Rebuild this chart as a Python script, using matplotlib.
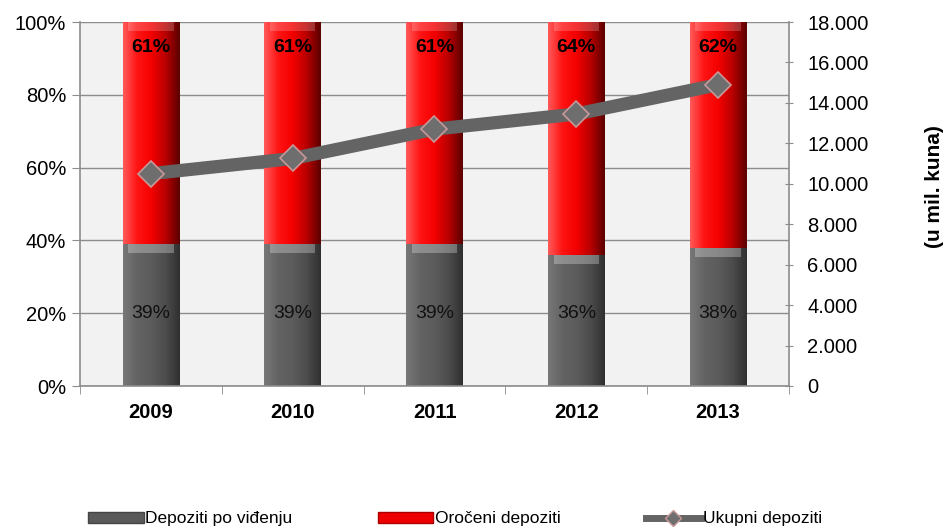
import numpy as np
import matplotlib
matplotlib.use("Agg")
import matplotlib.pyplot as plt
from matplotlib.colors import LinearSegmentedColormap
from matplotlib.lines import Line2D
from matplotlib.patches import Patch

plt.rcParams['font.family'] = ['Liberation Sans', 'DejaVu Sans']

years = ['2009', '2010', '2011', '2012', '2013']
po_videnju = [39, 39, 39, 36, 38]
oroceni = [61, 61, 61, 64, 62]
ukupni = [10500, 11250, 12700, 13450, 14900]
left_ticks = [0, 20, 40, 60, 80, 100]
right_ticks = [0, 2000, 4000, 6000, 8000, 10000, 12000, 14000, 16000, 18000]

fig = plt.figure(figsize=(9.48, 5.29), dpi=100)
ax = fig.add_axes([80/948, 1-386/529, 709/948, 364/529])
ax.set_facecolor('#f2f2f2')

x = np.arange(len(years))
w = 0.4
red_cmap = LinearSegmentedColormap.from_list('r', ['#ff5a5a', '#ff1414', '#f40000', '#b80000', '#5a0000'])
gray_cmap = LinearSegmentedColormap.from_list('g', ['#787878', '#636363', '#5c5c5c', '#4c4c4c', '#303030'])
grad = np.linspace(0, 1, 256).reshape(1, -1)

b1 = ax.bar(x, po_videnju, w, color='#5a5a5a', zorder=2)
b2 = ax.bar(x, oroceni, w, bottom=po_videnju, color='#ff0000', zorder=2)
for bars, cmap, hl in ((b1, gray_cmap, 0.28), (b2, red_cmap, 0.2)):
    for r in bars:
        x0, y0 = r.get_x(), r.get_y()
        im = ax.imshow(grad, cmap=cmap, aspect='auto', zorder=2.1,
                       extent=(x0, x0 + r.get_width(), y0, y0 + r.get_height()))
        im.set_clip_path(r)
        ax.bar(x0 + r.get_width()/2, 2.5, r.get_width()*0.8, bottom=y0 + r.get_height() - 2.5,
               color='white', alpha=hl, zorder=2.2, linewidth=0)

for i in range(len(years)):
    ax.text(x[i], po_videnju[i] + oroceni[i] - 7, f'{oroceni[i]}%', ha='center', va='center',
            fontsize=14, fontweight='bold', color='black', zorder=5)
    ax.text(x[i], 20, f'{po_videnju[i]}%', ha='center', va='center',
            fontsize=14, color='#111111', zorder=5)

ax.set_xlim(-0.5, len(years) - 0.5)
ax.set_ylim(0, 100)
ax.set_yticks(left_ticks)
ax.set_yticklabels([f'{t}%' for t in left_ticks], fontsize=14.5)
ax.yaxis.grid(True, color='#8c8c8c', linewidth=1)
ax.set_axisbelow(True)
ax.set_xticks(x)
ax.set_xticklabels(years, fontsize=14.5, fontweight='bold')
ax.set_xticks(np.arange(len(years) + 1) - 0.5, minor=True)
ax.tick_params(axis='x', which='major', length=0, pad=12)
ax.tick_params(axis='x', which='minor', length=6, color='#8c8c8c', direction='out')
ax.tick_params(axis='y', length=6, color='#8c8c8c', direction='out', pad=4)
for s in ['top', 'right']:
    ax.spines[s].set_visible(False)
for s in ['left', 'bottom']:
    ax.spines[s].set_color('#8c8c8c')
    ax.spines[s].set_linewidth(1.2)

ax2 = ax.twinx()
ax2.set_ylim(0, 18000)
ax2.set_yticks(right_ticks)
ax2.set_yticklabels([f'{t:,}'.replace(',', '.') for t in right_ticks], fontsize=14.5)
ax2.tick_params(axis='y', length=6, color='#8c8c8c', direction='inout', pad=10)
for s in ['top', 'left', 'bottom']:
    ax2.spines[s].set_visible(False)
ax2.spines['right'].set_color('#8c8c8c')
ax2.spines['right'].set_linewidth(1.2)
ax2.plot(x, ukupni, color='#646464', linewidth=9.5, marker='D', markersize=13.5,
         markerfacecolor='#6e6e6e', markeredgecolor='#c89898', markeredgewidth=1.2,
         solid_capstyle='butt', zorder=6)
fig.text(935/948, 1-187/529, '(u mil. kuna)', rotation=90, ha='center', va='center',
         fontsize=15, fontweight='bold')

handles = [Patch(facecolor='#5a5a5a', edgecolor='#444444'),
           Patch(facecolor='#ee0000', edgecolor='#aa0000'),
           Line2D([0], [0], color='#646464', linewidth=5, marker='D', markersize=8,
                  markerfacecolor='#6e6e6e', markeredgecolor='#c89898')]
fig.legend(handles, ['Depoziti po viđenju', 'Oročeni depoziti', 'Ukupni depoziti'],
           loc='center', bbox_to_anchor=(0.48, 1-519/529), ncol=3, frameon=False,
           fontsize=12.5, handlelength=3.2, handleheight=0.6, handletextpad=0.1,
           columnspacing=4.9)

fig.savefig('out.png', dpi=100)
